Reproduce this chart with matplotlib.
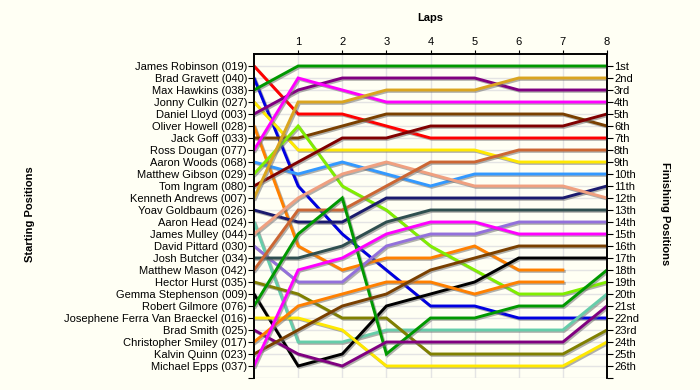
import numpy as np
import matplotlib
matplotlib.use('Agg')
import matplotlib.pyplot as plt
import matplotlib.patheffects as pe

# starting grid, top to bottom
drivers = ['James Robinson (019)', 'Brad Gravett (040)', 'Max Hawkins (038)', 'Jonny Culkin (027)',
           'Daniel Lloyd (003)', 'Oliver Howell (028)', 'Jack Goff (033)', 'Ross Dougan (077)',
           'Aaron Woods (068)', 'Matthew Gibson (029)', 'Tom Ingram (080)', 'Kenneth Andrews (007)',
           'Yoav Goldbaum (026)', 'Aaron Head (024)', 'James Mulley (044)', 'David Pittard (030)',
           'Josh Butcher (034)', 'Matthew Mason (042)', 'Hector Hurst (035)', 'Gemma Stephenson (009)',
           'Robert Gilmore (076)', 'Josephene Ferra Van Braeckel (016)', 'Brad Smith (025)',
           'Christopher Smiley (017)', 'Kalvin Quinn (023)', 'Michael Epps (037)']

laps = [0, 1, 2, 3, 4, 5, 6, 7, 8]
nan = np.nan
# position of each driver after each lap (nan = retired)
positions = [
    [1, 5, 5, 6, 7, 7, 7, 7, 7],
    [2, 11, 15, 18, 21, 21, 22, 22, 22],
    [3, 1, 1, 1, 1, 1, 1, 1, 1],
    [4, 8, 8, 8, 8, 8, 9, 9, 9],
    [5, 3, 2, 2, 2, 2, 3, 3, 3],
    [6, 16, 18, 17, 17, 16, 18, 18, nan],
    [7, 7, 6, 5, 5, 5, 5, 5, 6],
    [8, 2, 3, 4, 4, 4, 4, 4, 4],
    [9, 10, 9, 10, 11, 10, 10, 10, 10],
    [10, 6, 11, 13, 16, 18, 20, 20, 19],
    [11, 9, 7, 7, 6, 6, 6, 6, 5],
    [12, 4, 4, 3, 3, 3, 2, 2, 2],
    [13, 14, 14, 12, 12, 12, 12, 12, 11],
    [14, 24, 24, 23, 23, 23, 23, 23, 20],
    [15, 12, 10, 9, 10, 11, 11, 11, 12],
    [16, 19, 19, 16, 15, 15, 14, 14, 14],
    [17, 17, 16, 14, 13, 13, 13, 13, 13],
    [18, 13, 13, 11, 9, 9, 8, 8, 8],
    [19, 20, 22, 22, 25, 25, 25, 25, 23],
    [20, 26, 25, 21, 20, 19, 17, 17, 17],
    [21, 15, 12, 25, 22, 22, 21, 21, 18],
    [22, 22, 23, 26, 26, 26, 26, 26, 24],
    [23, 25, 26, 24, 24, 24, 24, 24, 21],
    [24, 21, 20, 19, 19, 20, 19, 19, nan],
    [25, 23, 21, 20, 18, 17, 16, 16, 16],
    [26, 18, 17, 15, 14, 14, 15, 15, 15],
]

finish_labels = ['1st', '2nd', '3rd'] + ['%dth' % i for i in range(4, 21)] + \
                ['21st', '22nd', '23rd', '24th', '25th', '26th']

colors = ['#ff0000', '#0000e0', '#009900', '#ffe800', '#800080', '#ff8000', '#7a4000', '#ff00ff',
          '#3399ff', '#80ee00', '#800000', '#daa520', '#1a1a6e', '#66cdaa', '#f0a080', '#9370db',
          '#2f4f4f', '#cc6633', '#808000', '#000000', '#009900', '#ffe800', '#800080', '#ff8000',
          '#7a4000', '#ff00ff']

bg = '#fffff4'
plt.rcParams['font.family'] = ['Liberation Sans', 'DejaVu Sans']
fig = plt.figure(figsize=(7, 3.9), dpi=100, facecolor=bg)
ax = fig.add_axes([254 / 700, 1 - 378 / 390, 353 / 700, 324 / 390])
ax.set_facecolor(bg)

n = len(drivers)
shadow = [pe.SimpleLineShadow(offset=(1, -1), shadow_color='#707070', alpha=0.55), pe.Normal()]
for i in range(n):
    ax.plot(laps, positions[i], color=colors[i], lw=2.1, solid_joinstyle='miter',
            path_effects=shadow, zorder=3)

ax.set_xlim(0, 8)
ax.set_ylim(27, 0)
ax.set_xticks(laps[1:])
ax.xaxis.tick_top()
ax.tick_params(axis='x', length=3, labelsize=8, pad=2, color='black')
ax.set_yticks(range(1, 28))
ax.set_yticklabels(drivers + [''], fontsize=8)
ax.tick_params(axis='y', length=4, pad=1, color='black')

ax2 = ax.twinx()
ax2.set_ylim(27, 0)
ax2.set_yticks(range(1, 28))
ax2.set_yticklabels(finish_labels + [''], fontsize=8)
ax2.tick_params(axis='y', length=4, pad=1)

ax.grid(True, color='#e4e4e4', lw=1, zorder=0)
ax.set_axisbelow(True)
for a in (ax, ax2):
    a.spines['bottom'].set_visible(False)
    for s in ('top', 'left', 'right'):
        a.spines[s].set_linewidth(1.2)

fig.text(430 / 700, 1 - 18 / 390, 'Laps', ha='center', va='center', fontsize=8, fontweight='bold')
fig.text(30 / 700, 1 - 214 / 390, 'Starting Positions', ha='center', va='center', rotation=90,
         fontsize=8, fontweight='bold')
fig.text(665 / 700, 1 - 214 / 390, 'Finishing Positions', ha='center', va='center', rotation=-90,
         fontsize=8, fontweight='bold')

fig.savefig('out.png', dpi=100, facecolor=bg)
